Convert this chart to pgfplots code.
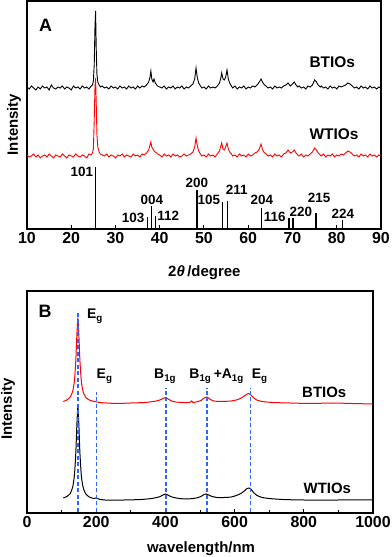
\documentclass[border=0pt]{standalone}
\usepackage{fontspec}
\setmainfont{Liberation Sans}
\usepackage{pgfplots}
\pgfplotsset{compat=1.18}
\usepackage{pgfplotstable}

\definecolor{xred}{RGB}{255,0,0}
\definecolor{dblue}{RGB}{45,100,255}

% XRD patterns: 2theta, BTIOs (black), WTIOs (red)
\pgfplotstableread{
x b w
10.0 142 74
10.5 140 72
11.0 143 73
11.5 141 75
12.0 139 72
12.5 142 74
13.0 140 71
13.5 143 73
14.0 141 74
14.5 142 72
15.0 139 75
15.5 144 73
16.0 141 71
16.5 140 74
17.0 142 73
17.5 141 72
18.0 143 75
18.5 140 73
19.0 142 71
19.5 141 74
20.0 139 73
20.5 143 72
21.0 141 75
21.5 142 73
22.0 140 72
22.5 143 74
23.0 141 73
23.5 142 71
24.0 140 75
24.5 143 74
24.8 144 76
25.0 148 80
25.2 165 110
25.35 200 140
25.5 218 151
25.65 180 125
25.8 155 95
26.0 147 82
26.3 144 77
26.6 142 75
27.0 143 74
27.5 141 73
28.0 142 75
28.5 140 72
29.0 143 74
29.5 141 73
30.0 142 71
30.5 140 74
31.0 143 73
31.5 141 75
32.0 142 72
32.5 140 74
33.0 143 73
33.5 141 72
34.0 142 75
34.5 140 73
35.0 143 74
35.5 141 72
36.0 143 75
36.5 142 74
37.0 144 76
37.5 147 79
37.8 152 84
38.0 158 87
38.2 150 82
38.5 147 80
38.7 150 78
39.0 146 77
39.5 143 75
40.0 142 74
40.5 141 72
41.0 143 75
41.5 140 73
42.0 142 74
42.5 141 72
43.0 143 75
43.5 140 73
44.0 142 74
44.5 141 72
45.0 143 73
45.5 140 75
46.0 142 73
46.5 141 74
47.0 143 75
47.5 145 77
47.9 150 82
48.2 161 91
48.5 151 83
48.8 146 78
49.2 143 75
49.5 141 73
50.0 142 74
50.5 140 72
51.0 143 75
51.5 141 73
52.0 142 74
52.5 141 72
53.0 143 75
53.5 146 78
53.8 151 83
54.0 156 86
54.3 150 80
54.6 149 79
54.9 152 82
55.2 159 86
55.5 150 80
55.8 146 77
56.2 143 75
56.5 141 73
57.0 143 74
57.5 140 72
58.0 142 75
58.5 141 73
59.0 143 74
59.5 140 72
60.0 142 75
60.5 141 73
61.0 143 74
61.5 142 76
62.0 144 77
62.5 147 80
62.9 150 85
63.2 147 80
63.5 145 77
64.0 143 75
64.5 141 73
65.0 142 74
65.5 140 72
66.0 143 75
66.5 141 73
67.0 142 74
67.5 141 72
68.0 143 75
68.5 144 76
69.0 146 79
69.5 143 76
70.0 145 77
70.4 147 79
70.8 144 76
71.2 142 74
71.5 143 73
72.0 141 75
72.5 142 72
73.0 140 74
73.5 143 73
74.0 142 75
74.5 144 77
75.0 149 81
75.4 147 79
75.8 144 76
76.3 142 74
76.5 143 73
77.0 141 75
77.5 142 72
78.0 140 74
78.5 143 73
79.0 141 75
79.5 142 72
80.0 140 74
80.5 143 73
81.0 142 75
81.5 143 74
82.0 144 76
82.5 146 78
83.0 145 77
83.5 143 75
84.0 141 73
84.5 142 74
85.0 140 72
85.5 143 75
86.0 141 73
86.5 142 74
87.0 140 72
87.5 143 75
88.0 141 73
88.5 142 74
89.0 140 72
89.5 142 74
90.0 141 73
}\xrd

% Raman, BTIOs (red)
\pgfplotstableread{
x y
105 111.5
115 113
125 116
132 121.6
137 132
141 152
144 177
147 194
150 177
153 152
157 132
162 121.6
169 116
180 113
195 111.5
210 110.5
230 110
260 109.5
300 110
340 110.5
365 111.5
380 112.5
390 114
400 115.5
408 114
418 112
430 111
450 110.5
470 110.5
476 112
480 110.5
495 111.5
505 113
512 115
520 116
528 114
540 112
560 111.5
590 112
610 113.5
622 115.5
632 118
640 119.5
646 118.5
654 115.5
664 113
680 111.5
710 110.5
760 110
820 109.5
880 110
940 109.5
1000 109
}\ramanb

% Raman, WTIOs (black)
\pgfplotstableread{
x y
105 15
115 16.5
125 19.5
132 26
137 37.6
141 59.5
144 87
147 106
150 87
153 59.5
157 37.6
162 26
169 19.5
180 16
193 14.5
200 15
207 14
225 13
280 13
330 13.5
360 14.5
375 15.5
385 16.5
393 18
400 19
407 18
415 16.5
425 15.5
440 14.5
460 14
480 14.5
495 15.5
505 17
512 18.5
518 19
525 18
535 16.5
550 15.5
570 15.5
590 16
605 17.5
618 19.5
628 22
636 24.5
642 25
648 23.5
656 20
665 17.5
680 15.5
700 14.5
740 13.5
800 13
900 13
1000 13
}\ramanw

\pgfplotsset{
  panel/.style={
    scale only axis,
    axis line style={line width=1.2bp},
    tick style={line width=1bp, black},
    tick align=inside,
    xtick pos=bottom,
    ytick=\empty,
    major tick length=4bp,
    minor tick length=2.5bp,
    /pgf/number format/assume math mode=true,
    /pgf/number format/1000 sep={},
    xticklabel style={font=\fontsize{16}{16}\selectfont\bfseries},
    label style={font=\fontsize{15}{15}\selectfont\bfseries},
    clip=true,
  },
  vline/.style={color=dblue, line width=1.2bp, dash pattern=on 4bp off 2.5bp, no marks},
}

\begin{document}
\begin{tikzpicture}
\useasboundingbox (0,0) rectangle (392bp,557bp);

% ---------------- Panel A: XRD ----------------
\begin{axis}[
  panel,
  at={(27bp,328bp)}, anchor=south west,
  width=354bp, height=228bp,
  xmin=10, xmax=90, ymin=0, ymax=228,
  xtick={10,20,...,90},
  xlabel={2\textit{θ}\,/degree},
  xlabel style={at={(axis description cs:0.501,-0.2105)}, anchor=base},
  ylabel={Intensity},
  ylabel style={at={(axis description cs:-0.037,0.4585)}, anchor=center},
]
\addplot[black, line width=0.9bp] table[x=x, y=b] {\xrd};
\addplot[xred, line width=0.9bp] table[x=x, y=w] {\xrd};
\addplot[ycomb, black, line width=1.2bp, no marks] coordinates {
  (25.5,62) (37.2,12) (38.2,23) (39.1,13) (48.4,39) (54.1,27)
  (55.3,28) (63.0,21) (69.2,11) (70.1,11) (75.3,16) (81.3,9)
};
\begin{scope}[every node/.style={anchor=base, font=\fontsize{13.5}{13.5}\selectfont\bfseries, inner sep=0pt}]
\node at (axis cs:22.4,52) {101};
\node at (axis cs:34.0,6) {103};
\node at (axis cs:38.2,24) {004};
\node at (axis cs:41.9,8) {112};
\node at (axis cs:48.4,41) {200};
\node at (axis cs:51.1,24) {105};
\node at (axis cs:57.4,34) {211};
\node at (axis cs:63.1,24) {204};
\node at (axis cs:66.0,7) {116};
\node at (axis cs:71.9,12) {220};
\node at (axis cs:76.0,26) {215};
\node at (axis cs:81.4,10) {224};
\end{scope}
\node[anchor=base, inner sep=0pt, font=\fontsize{18}{18}\selectfont\bfseries] at (axis cs:14.2,197) {A};
\node[anchor=base, inner sep=0pt, font=\fontsize{15.5}{15.5}\selectfont\bfseries] at (axis cs:79.0,161) {BTIOs};
\node[anchor=base, inner sep=0pt, font=\fontsize{15.5}{15.5}\selectfont\bfseries] at (axis cs:79.4,89) {WTIOs};
\end{axis}

% ---------------- Panel B: Raman ----------------
\begin{axis}[
  panel,
  at={(27bp,44bp)}, anchor=south west,
  width=346bp, height=222bp,
  xmin=0, xmax=1000, ymin=0, ymax=222,
  xtick={0,200,...,1000},
  minor x tick num=1,
  xlabel={wavelength/nm},
  xlabel style={at={(axis description cs:0.503,-0.18)}, anchor=base},
  ylabel={Intensity},
  ylabel style={at={(axis description cs:-0.055,0.468)}, anchor=center},
]
\addplot[xred, line width=1bp, smooth, tension=0.4] table[x=x, y=y] {\ramanb};
\addplot[black, line width=1bp, smooth, tension=0.4] table[x=x, y=y] {\ramanw};
\addplot[vline] coordinates {(147.5,1) (147.5,201)};
\addplot[vline] coordinates {(201,1) (201,121)};
\addplot[vline] coordinates {(402,1) (402,125)};
\addplot[vline] coordinates {(520,1) (520,125)};
\addplot[vline] coordinates {(645,1) (645,125)};
\begin{scope}[every node/.style={anchor=base west, inner sep=0pt, font=\fontsize{14}{14}\selectfont\bfseries}]
\node at (axis cs:173,194) {E\textsubscript{g}};
\node at (axis cs:201,134) {E\textsubscript{g}};
\node at (axis cs:367,134) {B\textsubscript{1g}};
\node at (axis cs:469,134) {B\textsubscript{1g}\,+A\textsubscript{1g}};
\node at (axis cs:649,134) {E\textsubscript{g}};
\end{scope}
\node[anchor=base, inner sep=0pt, font=\fontsize{18}{18}\selectfont\bfseries] at (axis cs:52,195) {B};
\node[anchor=base, inner sep=0pt, font=\fontsize{15}{15}\selectfont\bfseries] at (axis cs:859,115) {BTIOs};
\node[anchor=base, inner sep=0pt, font=\fontsize{15}{15}\selectfont\bfseries] at (axis cs:868,20) {WTIOs};
\end{axis}
\end{tikzpicture}
\end{document}
